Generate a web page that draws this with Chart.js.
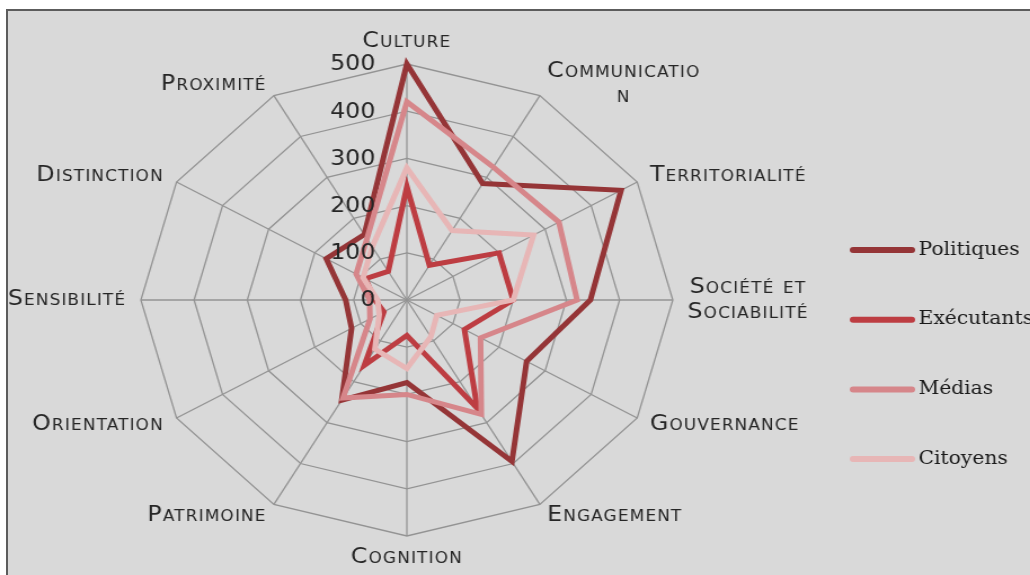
<!DOCTYPE html>
<html>
<head>
<meta charset="utf-8">
<script src="https://cdn.jsdelivr.net/npm/chart.js@4.4.0/dist/chart.umd.min.js"></script>
<style>
  html, body { margin: 0; padding: 0; background: #fff; overflow: hidden; }
  body { width: 1030px; height: 575px; position: relative; }
  .panel {
    position: absolute; left: 6px; top: 9px; right: -10px; bottom: -10px;
    background: #d9d9d9;
    border-top: 2px solid #5c5c5c;
    border-left: 2px solid #5c5c5c;
  }
  /* the chart is drawn on a narrower canvas and widened, like the original export */
  .stretch {
    position: absolute; left: 0; top: 0; width: 914px; height: 575px;
    transform: scaleX(1.127); transform-origin: 0 0;
  }
</style>
</head>
<body>
<div class="panel"></div>
<div class="stretch"><canvas id="radar" width="914" height="575"></canvas></div>
<script>
const categories = [
  'Culture', ['Communicatio', 'n'], 'Territorialité', ['Société et', 'Sociabilité'],
  'Gouvernance', 'Engagement', 'Cognition', 'Patrimoine',
  'Orientation', 'Sensibilité', 'Distinction', 'Proximité'
];

const politiques = [500, 285, 465, 345, 260, 395, 175, 245, 120, 115, 175, 160];
const executants = [240, 85, 200, 200, 125, 265, 75, 160, 50, 60, 90, 70];
const medias     = [420, 325, 330, 320, 160, 280, 200, 240, 80, 70, 110, 150];
const citoyens   = [280, 170, 275, 200, 65, 90, 145, 120, 60, 55, 95, 130];

const tickValues = [0, 100, 200, 300, 400, 500];
const seriesNames = ['Politiques', 'Exécutants', 'Médias', 'Citoyens'];
const seriesColors = ['#953537', '#bd3d42', '#d6868a', '#e7b6b6'];

// legend block on the right
const legendX = 757;
const legendTop = 250;
const legendStep = 69.7;

const radarText = {
  id: 'radarText',
  afterDatasetsDraw(chart) {
    const ctx = chart.ctx;
    const scale = chart.scales.r;
    const n = chart.data.labels.length;
    ctx.save();

    // values along the vertical axis
    ctx.font = '21px "DejaVu Sans"';
    ctx.fillStyle = '#262626';
    ctx.textAlign = 'right';
    ctx.textBaseline = 'middle';
    tickValues.forEach(v => {
      const y = scale.yCenter - scale.getDistanceFromCenterForValue(v);
      ctx.fillText(String(v), scale.xCenter - 28, y + 1);
    });

    // category names around the web
    ctx.font = 'small-caps 21px "DejaVu Sans"';
    ctx.fontVariantCaps = 'small-caps';
    ctx.letterSpacing = '1px';
    ctx.fillStyle = '#262626';
    ctx.textAlign = 'center';
    for (let i = 0; i < n; i++) {
      const deg = i * 360 / n;
      const p = scale.getPointPosition(i, scale.drawingArea + 13);
      const lines = [].concat(chart.data.labels[i]);
      const blockW = Math.max(...lines.map(l => ctx.measureText(l).width));
      let cx = p.x;
      if (deg > 0 && deg < 180) cx = p.x + blockW / 2;
      else if (deg > 180) cx = p.x - blockW / 2;
      let cy = p.y;
      if (deg === 0) cy -= 9;
      if (deg === 180) cy += 9;
      const lineH = 25;
      lines.forEach((l, k) => {
        ctx.fillText(l, cx, cy + (k - (lines.length - 1) / 2) * lineH);
      });
    }

    // legend
    ctx.font = '18px "DejaVu Serif"';
    ctx.fontVariantCaps = 'normal';
    ctx.letterSpacing = '0px';
    ctx.textAlign = 'left';
    chart.data.datasets.forEach((ds, k) => {
      const y = legendTop + k * legendStep;
      ctx.strokeStyle = ds.borderColor;
      ctx.lineWidth = 6;
      ctx.lineCap = 'round';
      ctx.beginPath();
      ctx.moveTo(legendX, y);
      ctx.lineTo(legendX + 52, y);
      ctx.stroke();
      ctx.fillStyle = '#1a1a1a';
      ctx.fillText(ds.label, legendX + 58, y);
    });
    ctx.restore();
  }
};

const seriesData = [politiques, executants, medias, citoyens];

new Chart(document.getElementById('radar'), {
  type: 'radar',
  data: {
    labels: categories,
    datasets: seriesData.map((values, k) => ({
      label: seriesNames[k],
      data: values,
      borderColor: seriesColors[k],
      backgroundColor: seriesColors[k],
      fill: false,
      order: seriesData.length - k
    }))
  },
  options: {
    responsive: false,
    animation: false,
    layout: { padding: { left: 125, right: 317, top: 64, bottom: 39 } },
    plugins: {
      legend: { display: false },
      tooltip: { enabled: false }
    },
    elements: {
      point: { radius: 0, hoverRadius: 0 },
      line: { borderWidth: 5, tension: 0, borderJoinStyle: 'miter' }
    },
    scales: {
      r: {
        min: 0,
        max: 500,
        ticks: { stepSize: 100, display: false },
        pointLabels: { display: false },
        grid: { color: '#939393', lineWidth: 1.3 },
        angleLines: { color: '#939393', lineWidth: 1.3 }
      }
    }
  },
  plugins: [radarText]
});
</script>
</body>
</html>
